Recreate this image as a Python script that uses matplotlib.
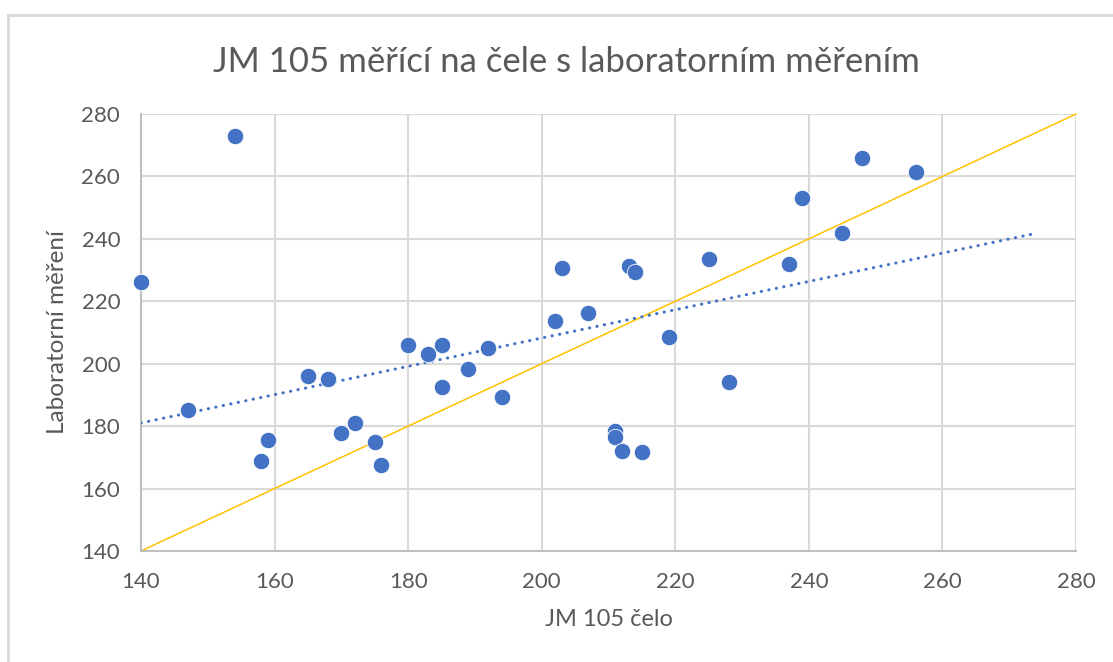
import numpy as np
import matplotlib.pyplot as plt
from matplotlib.lines import Line2D

# --- Data ---
jm_celo = [140, 147, 154, 158, 159, 165, 168, 170, 172, 175, 176, 180, 183, 185, 185,
           189, 192, 194, 202, 203, 207, 211, 211, 212, 213, 214, 215, 219, 225, 228,
           237, 239, 245, 248, 256]
lab = [226.3, 185.1, 273.0, 168.7, 175.7, 196.2, 195.0, 177.8, 181.0, 175.0, 167.5,
       206.0, 203.1, 206.0, 192.5, 198.2, 205.0, 189.2, 213.8, 230.8, 216.2, 178.6,
       176.5, 172.0, 231.4, 229.5, 171.6, 208.7, 233.6, 194.0, 232.0, 253.2, 241.8,
       265.8, 261.4]
ticks = [140, 160, 180, 200, 220, 240, 260, 280]
trend_end = 273.5

txt = "#595959"
grid = "#D9D9D9"
plt.rcParams["font.family"] = ["Lato", "DejaVu Sans"]

# --- Figure ---
fig = plt.figure(figsize=(11.13, 6.62), dpi=100)
ax = fig.add_axes([141 / 1113, 1 - 551 / 662, 935 / 1113, 437 / 662])

# chart frame (only left/top visible in the crop)
fig.add_artist(Line2D([8 / 1113, 8 / 1113], [0, 1 - 15 / 662], transform=fig.transFigure,
                      color="#D9D9D9", lw=2))
fig.add_artist(Line2D([8 / 1113, 1], [1 - 15 / 662, 1 - 15 / 662], transform=fig.transFigure,
                      color="#D9D9D9", lw=2))

ax.set_xlim(140, 280)
ax.set_ylim(140, 280)
ax.set_xticks(ticks)
ax.set_yticks(ticks)
ax.grid(True, color=grid, lw=1.5, zorder=0)
for s in ["top", "right"]:
    ax.spines[s].set_visible(False)
for s in ["left", "bottom"]:
    ax.spines[s].set_color("#BFBFBF")
    ax.spines[s].set_linewidth(1.5)
ax.tick_params(length=0, labelsize=16, colors=txt, pad=15)

# y = x reference line
ax.plot([140, 280], [140, 280], color="#FFC000", lw=1.1, zorder=2, clip_on=False)

# linear trend
k, q = np.polyfit(jm_celo, lab, 1)
tx = np.array([140, trend_end])
ax.plot(tx, k * tx + q, color="#4472C4", lw=2.2, linestyle=(0, (0.1, 2.4)),
        dash_capstyle="round", zorder=3)

# points
ax.scatter(jm_celo, lab, s=140, color="#4472C4", edgecolor="white", linewidth=0.6,
           zorder=4, clip_on=False)

ax.set_xlabel("JM 105 čelo", fontsize=17, color=txt, labelpad=12)
ax.set_ylabel("Laboratorní měření", fontsize=17.5, color=txt, labelpad=10)
fig.text(566 / 1113, 1 - 62 / 662, "JM 105 měřící na čele s laboratorním měřením",
         fontsize=25, color=txt, ha="center", va="center")

fig.savefig("out.png", dpi=100)
